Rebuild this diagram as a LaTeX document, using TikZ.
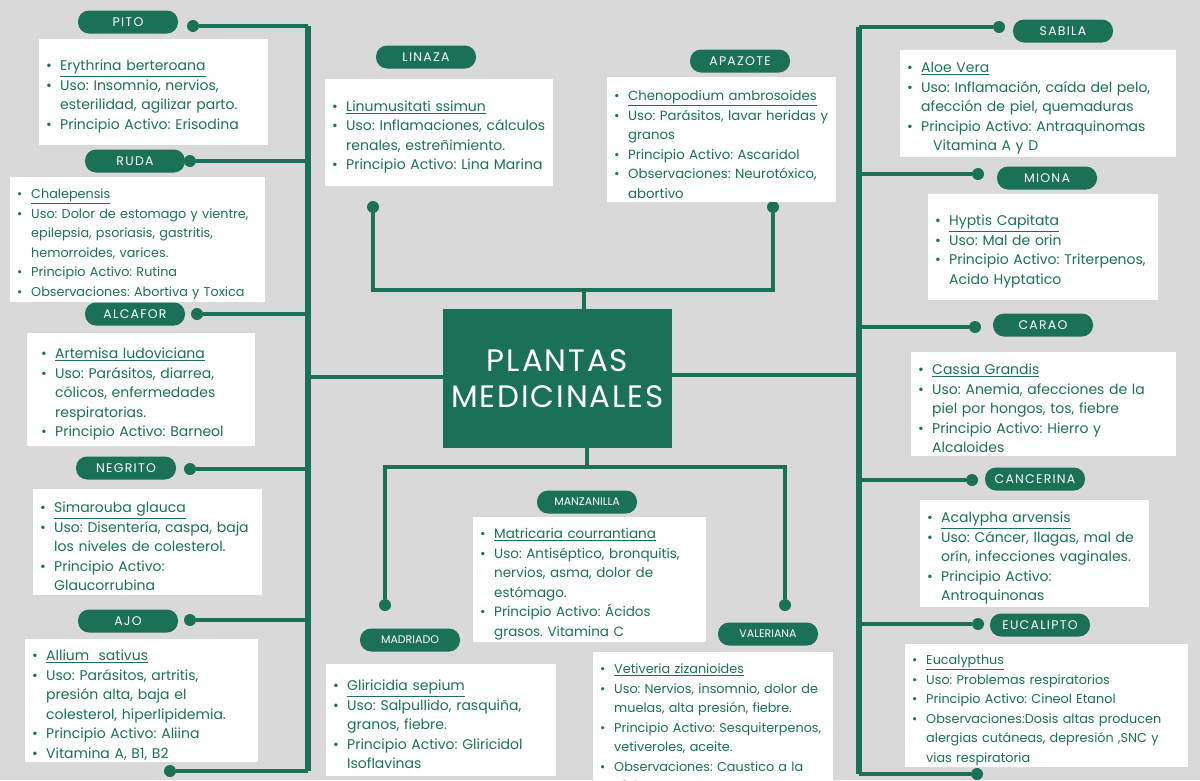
\documentclass[tikz,border=0pt]{standalone}
\usepackage{fontspec}
\setmainfont{Poppins}
\definecolor{g}{HTML}{1B7157}
\definecolor{bg}{HTML}{D9D9D9}
\newcommand\itm[1]{\par\leftskip=14pt\hyphenpenalty=10000\exhyphenpenalty=10000\frenchspacing\noindent\hbox to 0pt{\hss\makebox[14pt][l]{•}}#1\par}
\newcommand\ul[1]{\underline{#1}}
\tikzset{
 box/.style={fill=white,anchor=north west,inner xsep=7pt,inner ysep=4pt,text=g,align=left,font=\fontsize{14}{19.5}\selectfont},
 sbox/.style={box,font=\fontsize{12.8}{19.5}\selectfont},
 pill/.style={fill=g,text=white,rounded corners=11pt,minimum width=100pt,minimum height=23pt,inner sep=0pt,font=\fontsize{12.5}{14}\selectfont\addfontfeatures{LetterSpace=10}},
 ln/.style={draw=g,line width=4.5pt},
 spine/.style={draw=g,line width=6pt},
 dot/.style={circle,fill=g,minimum size=12pt,inner sep=0pt},
}
\begin{document}
\begin{tikzpicture}[x=1pt,y=-1pt]
\useasboundingbox (0,0) rectangle (1200,780);
\fill[bg] (0,0) rectangle (1200,780);
% center
\node[fill=g,text=white,minimum width=229pt,minimum height=139pt,align=center,font=\fontsize{31}{36}\selectfont\addfontfeatures{LetterSpace=6}] (c) at (557.5,378.5) {PLANTAS\\MEDICINALES};
% spines
\coordinate (lt) at (308,26); \coordinate (lb) at (308,771);
\coordinate (rt) at (859,27); \coordinate (rb) at (859,774);
\draw[spine] (lt) -- (lb);
\draw[spine] (rt) -- (rb);
\draw[ln] (308,377) -- (c.west |- 0,377);
\draw[ln] (859,375) -- (c.east |- 0,375);
% left dots
\foreach \n/\x/\y in {d1/193/26,d2/190/161,d3/197/314,d4/190/469,d5/190/620,d6/170/771}{
 \node[dot] (\n) at (\x,\y) {};
 \draw[ln] (\n) -- (308,\y);}
\foreach \n/\x/\y in {e1/999/27,e2/978/174,e3/975/327,e4/972/480,e5/978/624,e6/977/774}{
 \node[dot] (\n) at (\x,\y) {};
 \draw[ln] (\n) -- (859,\y);}
% top / bottom
\node[dot] (t1) at (373,207) {}; \node[dot] (t2) at (773,207) {};
\draw[ln] (t1) -- (373,290) -- (773,290) -- (t2);
\draw[ln] (584,290) -- (c.north -| 584,0);
\node[dot] (b1) at (385,605) {}; \node[dot] (b2) at (785,605) {};
\draw[ln] (b1) -- (385,467) -- (785,467) -- (b2);
\draw[ln] (587,467) -- (c.south -| 587,0);
% pills
\node[pill] (pPITO) at (128,22) {PITO};
\node[pill] (pRUDA) at (135,161) {RUDA};
\node[pill] (pALC) at (135,314) {ALCAFOR};
\node[pill] (pNEG) at (126,468) {NEGRITO};
\node[pill] (pAJO) at (128,621) {AJO};
\node[pill] (pSAB) at (1063,31) {SABILA};
\node[pill] (pMIO) at (1047,178) {MIONA};
\node[pill] (pCAR) at (1043,325) {CARAO};
\node[pill] (pCAN) at (1035,479) {CANCERINA};
\node[pill] (pEUC) at (1040,625) {EUCALIPTO};
\node[pill] (pLIN) at (426,57) {LINAZA};
\node[pill] (pAPA) at (740,61) {APAZOTE};
\node[pill,font=\fontsize{11}{14}\selectfont] (pMAN) at (587,502) {MANZANILLA};
\node[pill,font=\fontsize{11}{14}\selectfont] (pMAD) at (410,640) {MADRIADO};
\node[pill,font=\fontsize{11}{14}\selectfont] (pVAL) at (768,634) {VALERIANA};
% boxes
\node[box,text width=215pt,minimum height=106pt] (bPITO) at (39,39) {\itm{\ul{Erythrina berteroana}}\itm{Uso: Insomnio, nervios, esterilidad, agilizar parto.}\itm{Principio Activo: Erisodina}};
\node[sbox,text width=241pt,minimum height=119pt,inner ysep=2pt] (bRUDA) at (10,177) {\itm{\ul{Chalepensis}}\itm{Uso: Dolor de estomago y vientre, epilepsia, psoriasis, gastritis, hemorroides, varices.}\itm{Principio Activo: Rutina}\itm{Observaciones: Abortiva y Toxica}};
\node[box,text width=200pt,minimum height=107pt,inner xsep=14pt,inner ysep=6pt] (bALC) at (27,333) {\itm{\ul{Artemisa ludoviciana}}\itm{Uso: Parásitos, diarrea, cólicos, enfermedades respiratorias.}\itm{Principio Activo: Barneol}};
\node[box,text width=215pt,minimum height=106pt] (bNEG) at (33,489) {\itm{\ul{Simarouba glauca}}\itm{Uso: Disentería, caspa, baja los niveles de colesterol.}\itm{Principio Activo: Glaucorrubina}};
\node[box,text width=219pt,minimum height=116pt,inner ysep=2pt] (bAJO) at (25,639) {\itm{\ul{Allium\ \ sativus}}\itm{Uso: Parásitos, artritis, presión alta, baja el colesterol, hiperlipidemia.}\itm{Principio Activo: Aliina}\itm{Vitamina A, B1, B2}};
\node[box,text width=214pt,minimum height=107pt,inner ysep=8pt] (bLIN) at (325,79) {\itm{\ul{Linumusitati ssimun}}\itm{Uso: Inflamaciones, cálculos renales, estreñimiento.}\itm{Principio Activo: Lina Marina}};
\node[box,text width=215pt,minimum height=114pt,font=\fontsize{13.3}{19.5}\selectfont] (bAPA) at (607,77) {\itm{\ul{Chenopodium ambrosoides}}\itm{Uso: Parásitos, lavar heridas y granos}\itm{Principio Activo: Ascaridol}\itm{Observaciones: Neurotóxico, abortivo}};
\node[box,text width=219pt,minimum height=113pt,font=\fontsize{13.5}{19.5}\selectfont,inner ysep=2pt] (bMAN) at (473,517) {\itm{\ul{Matricaria courrantiana}}\itm{Uso: Antiséptico, bronquitis, nervios, asma, dolor de estómago.}\itm{Principio Activo: Ácidos grasos. Vitamina C}};
\node[box,text width=216pt,minimum height=112pt,inner ysep=4pt] (bMAD) at (326,664) {\itm{\ul{Gliricidia sepium}}\itm{Uso: Salpullido, rasquiña, granos, fiebre.}\itm{Principio Activo: Gliricidol Isoflavinas}};
\node[sbox,text width=226pt,minimum height=119pt,inner ysep=2pt] (bVAL) at (593,652) {\itm{\ul{Vetiveria zizanioides}}\itm{Uso: Nervios, insomnio, dolor de muelas, alta presión, fiebre.}\itm{Principio Activo: Sesquiterpenos, vetiveroles, aceite.}\itm{Observaciones: Caustico a la piel}};
\node[box,text width=262pt,minimum height=105pt,inner ysep=3pt] (bSAB) at (900,50) {\itm{\ul{Aloe Vera}}\itm{Uso: Inflamación, caída del pelo, afección de piel, quemaduras}\itm{Principio Activo: Antraquinomas \\\hspace*{12pt}Vitamina A y D}};
\node[box,text width=216pt,minimum height=106pt,inner ysep=8pt] (bMIO) at (928,194) {\itm{\ul{Hyptis Capitata}}\itm{Uso: Mal de orin}\itm{Principio Activo: Triterpenos, Acido Hyptatico}};
\node[box,text width=251pt,minimum height=103pt,inner ysep=3pt] (bCAR) at (911,352) {\itm{\ul{Cassia Grandis}}\itm{Uso: Anemia, afecciones de la piel por hongos, tos, fiebre}\itm{Principio Activo: Hierro y Alcaloides}};
\node[box,text width=215pt,minimum height=105pt,inner ysep=3pt] (bCAN) at (920,500) {\itm{\ul{Acalypha arvensis}}\itm{Uso: Cáncer, llagas, mal de orín, infecciones vaginales.}\itm{Principio Activo: Antroquinonas}};
\node[sbox,text width=269pt,minimum height=113pt,inner ysep=1pt] (bEUC) at (905,644) {\itm{\ul{Eucalypthus}}\itm{Uso: Problemas respiratorios}\itm{Principio Activo: Cineol Etanol}\itm{Observaciones:Dosis altas producen alergias cutáneas, depresión ,SNC y vias respiratoria}};
\end{tikzpicture}
\end{document}
